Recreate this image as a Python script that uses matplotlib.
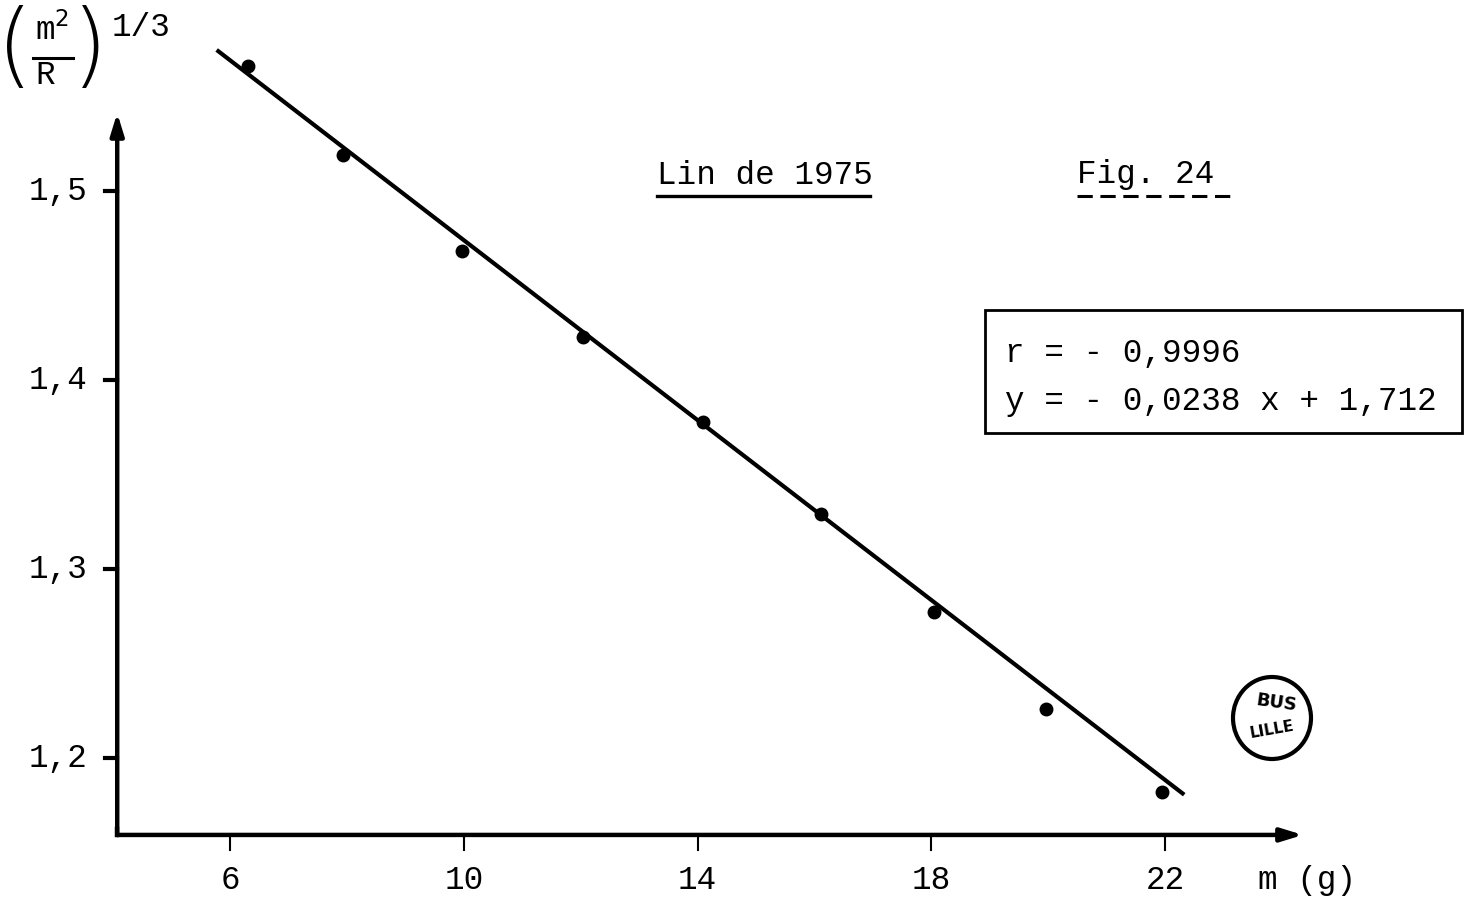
import matplotlib.pyplot as plt
import matplotlib.patches as mpatches

plt.rcParams['font.family'] = ['Liberation Mono', 'DejaVu Sans']

# mesures : masse m (g) et (m^2/R)^(1/3)
masse = [6.31, 7.93, 9.97, 12.04, 14.09, 16.11, 18.05, 19.96, 21.95]
valeurs = [1.566, 1.519, 1.468, 1.423, 1.378, 1.329, 1.277, 1.226, 1.182]

# droite de régression
pente = -0.0238
ordonnee = 1.712
r = -0.9996
x_droite = [5.8, 22.3]

x_ticks = [6, 10, 14, 18, 22]
y_ticks = [1.2, 1.3, 1.4, 1.5]
y_tick_labels = ['1,2', '1,3', '1,4', '1,5']

W, H = 1467, 898
fig = plt.figure(figsize=(W / 100, H / 100), dpi=100)
ax = fig.add_axes([0, 0, 1, 1])
ax.set_xlim(2.0643, 27.167)
ax.set_ylim(1.12593, 1.60106)
ax.axis('off')

x_orig, y_orig = 4.07, 1.1593
lw_axe = 3.2
fs = 23.5

# axes avec flèches
fleche = dict(arrowstyle='-|>,head_length=1.3,head_width=0.4', lw=lw_axe,
              color='black', shrinkA=0, shrinkB=0)
ax.annotate('', xy=(x_orig, 1.5413), xytext=(x_orig, y_orig), arrowprops=fleche)
ax.annotate('', xy=(24.36, y_orig), xytext=(x_orig, y_orig), arrowprops=fleche)
ax.plot([x_orig, x_orig], [y_orig, y_orig + 0.003], color='black', lw=lw_axe,
        solid_capstyle='projecting')

# graduations
for v, lab in zip(y_ticks, y_tick_labels):
    ax.plot([x_orig - 0.21, x_orig], [v, v], color='black', lw=3)
    ax.text(3.57, v, lab, ha='right', va='center', fontsize=fs)
for v in x_ticks:
    ax.plot([v, v], [y_orig, y_orig - 0.008], color='black', lw=1.5)
    ax.text(v, 1.1354, str(v), ha='center', va='center', fontsize=fs)
ax.text(1258 / W, 1 - 880 / H, 'm (g)', transform=ax.transAxes,
        ha='left', va='center', fontsize=fs)

# droite et points
y_droite = [pente * x + ordonnee for x in x_droite]
ax.plot(x_droite, y_droite, color='black', lw=3.0)
ax.plot(masse, valeurs, 'o', color='black', markersize=9)

# titre de l'axe y
tr = ax.transAxes
def fx(px):
    return px / W
def fy(py):
    return 1 - py / H

ax.text(fx(15), fy(50), '(', transform=tr, ha='center', va='center',
        fontsize=66, family='DejaVu Sans', fontweight='light')
ax.text(fx(90), fy(50), ')', transform=tr, ha='center', va='center',
        fontsize=66, family='DejaVu Sans', fontweight='light')
ax.text(fx(52), fy(30), 'm$^2$', transform=tr, ha='center', va='center', fontsize=fs)
ax.plot([fx(33), fx(73)], [fy(58), fy(58)], transform=tr, color='black', lw=2.2)
ax.text(fx(45), fy(76), 'R', transform=tr, ha='center', va='center', fontsize=fs)
ax.text(fx(141), fy(28), '1/3', transform=tr, ha='center', va='center', fontsize=fs)

# titres
ax.text(fx(657), fy(175), 'Lin de 1975', transform=tr, ha='left', va='center', fontsize=fs)
ax.plot([fx(657), fx(870)], [fy(196), fy(196)], transform=tr, color='black', lw=2.4)
ax.text(fx(1077), fy(175), 'Fig. 24', transform=tr, ha='left', va='center', fontsize=fs)
ax.plot([fx(1077), fx(1237)], [fy(196), fy(196)], transform=tr, color='black', lw=2.2,
        linestyle=(0, (5, 2.5)))

# encadré des résultats
cadre = mpatches.Rectangle((fx(985), fy(433)), fx(1462) - fx(985), fy(310) - fy(433),
                           transform=tr, fill=False, edgecolor='black', lw=2.0)
ax.add_patch(cadre)
ax.text(fx(1005), fy(353), 'r = - ' + f'{-r:.4f}'.replace('.', ','), transform=tr,
        ha='left', va='center', fontsize=fs)
ax.text(fx(1005), fy(401),
        'y = - ' + f'{-pente:.4f}'.replace('.', ',') + ' x + ' + f'{ordonnee:.3f}'.replace('.', ','),
        transform=tr, ha='left', va='center', fontsize=fs)

# tampon
tampon = mpatches.Ellipse((fx(1272), fy(718)), 78 / W, 82 / H, transform=tr,
                          fill=False, edgecolor='black', lw=3)
ax.add_patch(tampon)
ax.text(fx(1276), fy(703), 'BUS', transform=tr, ha='center', va='center',
        fontsize=13, fontweight='bold', rotation=-8, family='DejaVu Sans')
ax.text(fx(1272), fy(730), 'LILLE', transform=tr, ha='center', va='center',
        fontsize=11, fontweight='bold', rotation=10, family='DejaVu Sans')

fig.savefig('out.png', dpi=100, facecolor='white')
